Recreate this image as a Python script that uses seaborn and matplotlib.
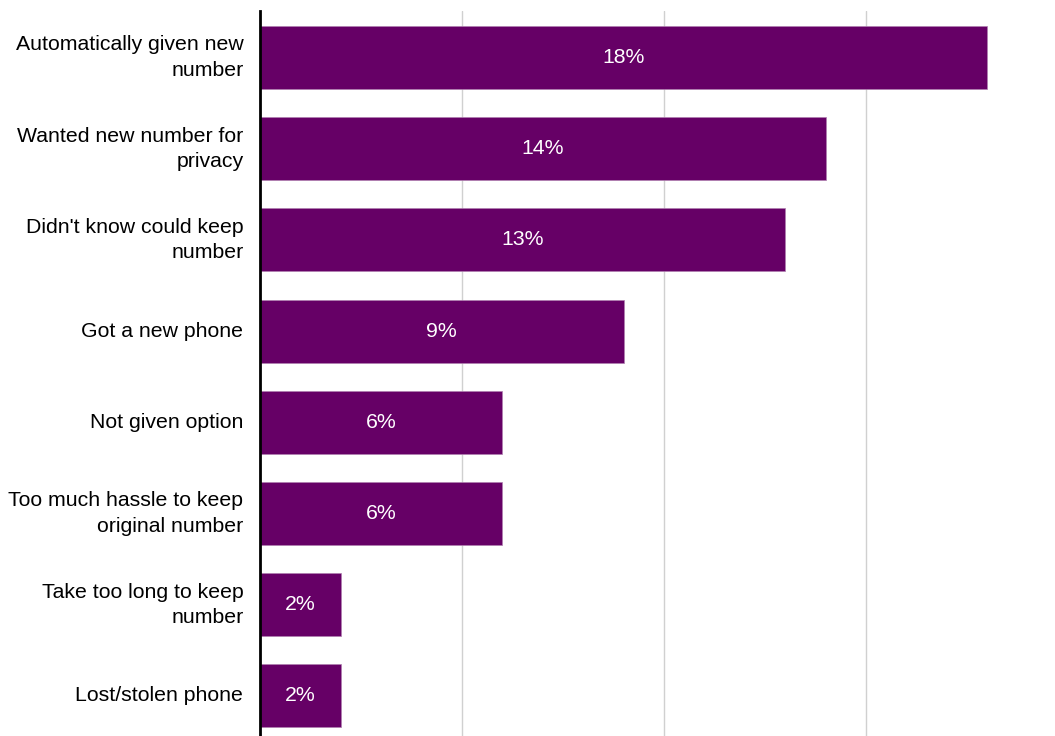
import matplotlib
matplotlib.use("Agg")
import matplotlib.pyplot as plt
import seaborn as sns
import pandas as pd

categories = [
    "Automatically given new\nnumber",
    "Wanted new number for\nprivacy",
    "Didn't know could keep\nnumber",
    "Got a new phone",
    "Not given option",
    "Too much hassle to keep\noriginal number",
    "Take too long to keep\nnumber",
    "Lost/stolen phone",
]
values = [18, 14, 13, 9, 6, 6, 2, 2]
value_labels = ["18%", "14%", "13%", "9%", "6%", "6%", "2%", "2%"]

sns.set_theme(style="white")
plt.rcParams['font.family'] = ['Liberation Sans', 'DejaVu Sans']

df = pd.DataFrame({"cat": categories, "val": values})

fig = plt.figure(figsize=(10.55, 7.36), dpi=100)
ax = fig.add_axes([260 / 1055, 0, (1045 - 260) / 1055, (736 - 11) / 736])

sns.barplot(data=df, y="cat", x="val", orient="h", color="#660066",
            saturation=1, width=0.69, ax=ax, edgecolor="#b080b0", linewidth=0.5)

ax.set_xlim(0, (1045 - 260) / 40.4)
ax.set_ylim(7.44, -0.51)
ax.set_xticks([5, 10, 15])
ax.set_xticklabels([])
ax.tick_params(axis="x", length=0)
ax.tick_params(axis="y", length=0, labelsize=15.3, pad=12, labelcolor="black")
ax.xaxis.grid(True, color="#d0d0d0", linewidth=1)
ax.set_axisbelow(True)
ax.set_xlabel("")
ax.set_ylabel("")
for s in ["top", "right", "bottom"]:
    ax.spines[s].set_visible(False)
ax.spines["left"].set_color("black")
ax.spines["left"].set_linewidth(2)

for lbl in ax.get_yticklabels():
    lbl.set_horizontalalignment("right")
    lbl.set_verticalalignment("center")
    lbl.set_multialignment("right")
    lbl.set_linespacing(1.42)

for i, (v, t) in enumerate(zip(values, value_labels)):
    ax.text(v / 2, i, t, ha="center", va="center", color="white", fontsize=15.3)

fig.savefig("out.png", dpi=100)
